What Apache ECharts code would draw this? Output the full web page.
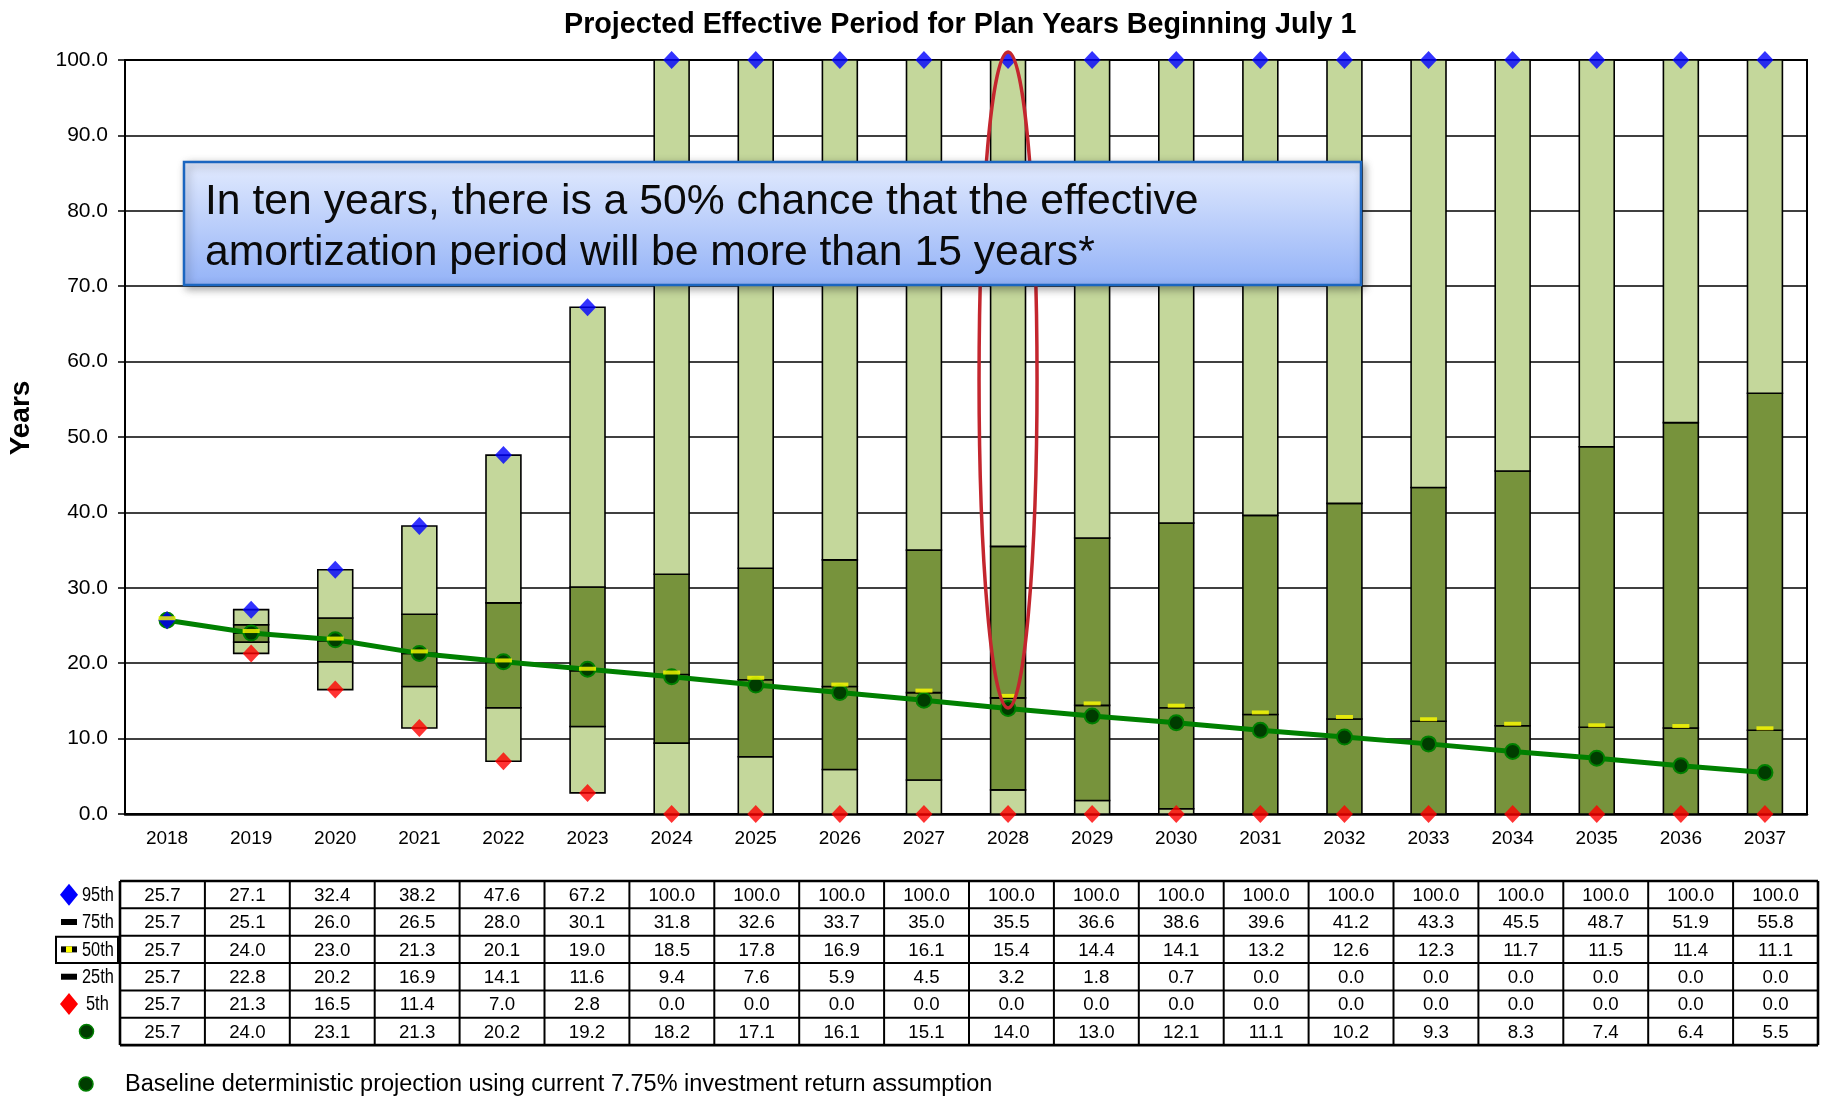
<!DOCTYPE html>
<html>
<head>
<meta charset="utf-8">
<title>Projected Effective Period</title>
<script src="https://cdn.jsdelivr.net/npm/echarts@6/dist/echarts.min.js"></script>
<style>
  html, body { margin: 0; padding: 0; background: #fff; }
  #chart { width: 1825px; height: 1097px; }
</style>
</head>
<body>
<div id="chart"></div>
<script>
// Plan years
const years = ['2018','2019','2020','2021','2022','2023','2024','2025','2026','2027',
               '2028','2029','2030','2031','2032','2033','2034','2035','2036','2037'];

// Percentiles of the projected effective amortization period (years)
const pct95 = [25.7, 27.1, 32.4, 38.2, 47.6, 67.2, 100.0, 100.0, 100.0, 100.0,
               100.0, 100.0, 100.0, 100.0, 100.0, 100.0, 100.0, 100.0, 100.0, 100.0];
const pct75 = [25.7, 25.1, 26.0, 26.5, 28.0, 30.1, 31.8, 32.6, 33.7, 35.0,
               35.5, 36.6, 38.6, 39.6, 41.2, 43.3, 45.5, 48.7, 51.9, 55.8];
const pct50 = [25.7, 24.0, 23.0, 21.3, 20.1, 19.0, 18.5, 17.8, 16.9, 16.1,
               15.4, 14.4, 14.1, 13.2, 12.6, 12.3, 11.7, 11.5, 11.4, 11.1];
const pct25 = [25.7, 22.8, 20.2, 16.9, 14.1, 11.6, 9.4, 7.6, 5.9, 4.5,
               3.2, 1.8, 0.7, 0.0, 0.0, 0.0, 0.0, 0.0, 0.0, 0.0];
const pct5  = [25.7, 21.3, 16.5, 11.4, 7.0, 2.8, 0.0, 0.0, 0.0, 0.0,
               0.0, 0.0, 0.0, 0.0, 0.0, 0.0, 0.0, 0.0, 0.0, 0.0];

// Baseline deterministic projection (7.75% return assumption)
const baseline = [25.7, 24.0, 23.1, 21.3, 20.2, 19.2, 18.2, 17.1, 16.1, 15.1,
                  14.0, 13.0, 12.1, 11.1, 10.2, 9.3, 8.3, 7.4, 6.4, 5.5];

// Table rows under the chart, top to bottom
const tableRows = [pct95, pct75, pct50, pct25, pct5, baseline];
const rowLabels = ['95th', '75th', '50th', '25th', '5th', ''];

const calloutLines = [
  'In ten years, there is a 50% chance that the effective',
  'amortization period will be more than 15 years*'
];
const footnote = 'Baseline deterministic projection using current 7.75% investment return assumption';
const highlightYear = '2028';

const FONT = '"Liberation Sans", Arial, Helvetica, sans-serif';
const LIGHT = '#C4D79B';
const DARK = '#77933C';
const BLUE = '#0000FF';
const RED = '#FF0000';
const LINE_GREEN = '#008000';
const DOT_GREEN = '#003C00';

const chart = echarts.init(document.getElementById('chart'), null, { renderer: 'canvas' });

// Floating percentile bands: 5-25 light, 25-50 dark, 50-75 dark, 75-95 light
function renderBands(params, api) {
  const i = api.value(0);
  const v = [api.value(1), api.value(2), api.value(3), api.value(4), api.value(5)];
  const fills = [LIGHT, DARK, DARK, LIGHT];
  const w = api.size([1, 0])[0] * 0.415;
  const x = api.coord([i, 0])[0] - w / 2;
  const children = [];
  for (let k = 0; k < 4; k++) {
    if (v[k + 1] - v[k] <= 0) continue;
    const yHi = api.coord([i, v[k + 1]])[1];
    const yLo = api.coord([i, v[k]])[1];
    children.push({
      type: 'rect',
      shape: { x: x, y: yHi, width: w, height: yLo - yHi },
      style: { fill: fills[k], stroke: '#000', lineWidth: 1.6 }
    });
  }
  return { type: 'group', children: children };
}

const bandData = years.map((y, i) => [i, pct5[i], pct25[i], pct50[i], pct75[i], pct95[i]]);

chart.setOption({
  animation: false,
  backgroundColor: '#fff',
  title: {
    text: 'Projected Effective Period for Plan Years Beginning July 1',
    left: 559, top: 6,
    textStyle: { fontFamily: FONT, fontWeight: 'bold', fontSize: 28.7, color: '#000' }
  },
  grid: {
    left: 125, right: 18, top: 60, bottom: 283,
    show: true, borderColor: '#000', borderWidth: 2, backgroundColor: 'transparent'
  },
  xAxis: {
    type: 'category',
    data: years,
    axisLine: { lineStyle: { color: '#000', width: 2.5 } },
    axisTick: { show: false },
    axisLabel: { color: '#000', fontFamily: FONT, fontSize: 19, margin: 15 },
    splitLine: { show: false }
  },
  yAxis: {
    type: 'value',
    min: 0, max: 100, interval: 10,
    axisLine: { show: true, lineStyle: { color: '#000', width: 2 } },
    axisTick: { show: true, length: 7, lineStyle: { color: '#000', width: 1.5 } },
    axisLabel: {
      color: '#000', fontFamily: FONT, fontSize: 21, margin: 17,
      formatter: v => v.toFixed(1)
    },
    splitLine: { lineStyle: { color: '#000', width: 1.5 } }
  },
  series: [
    {
      name: 'bands',
      type: 'custom',
      renderItem: renderBands,
      encode: { x: 0, y: [1, 2, 3, 4, 5] },
      data: bandData,
      z: 2
    },
    {
      name: '5th',
      type: 'scatter',
      data: pct5,
      symbol: 'diamond',
      symbolSize: [17, 18],
      itemStyle: { color: RED },
      z: 3
    },
    {
      name: 'Baseline',
      type: 'line',
      data: baseline,
      symbol: 'circle',
      symbolSize: 15,
      showSymbol: true,
      lineStyle: { color: LINE_GREEN, width: 5 },
      itemStyle: { color: DOT_GREEN, borderColor: LINE_GREEN, borderWidth: 2 },
      z: 4
    },
    {
      name: '95th',
      type: 'scatter',
      data: pct95,
      symbol: 'diamond',
      symbolSize: [17, 18],
      itemStyle: { color: BLUE },
      z: 5
    },
    {
      name: '50th',
      type: 'scatter',
      data: pct50,
      symbol: 'rect',
      symbolSize: [17, 4],
      symbolOffset: [0, -2],
      itemStyle: { color: '#FFFF00' },
      z: 6
    }
  ]
});

// ---- Axis name, annotations, data table and footnote ----
const g = [];

// Vertical axis name
g.push({
  type: 'text',
  x: 21, y: 418, rotation: Math.PI / 2,
  style: { text: 'Years', font: 'bold 28px ' + FONT, fill: '#000', align: 'center', verticalAlign: 'middle' },
  z: 10
});

// Red ellipse around the ten-year bar
const ex = chart.convertToPixel({ xAxisIndex: 0 }, highlightYear);
g.push({
  type: 'ellipse',
  shape: { cx: ex, cy: 380, rx: 29, ry: 328 },
  style: { fill: null, stroke: '#C4262E', lineWidth: 3.5 },
  z: 50
});

// Callout box
g.push({
  type: 'rect',
  shape: { x: 184, y: 162, width: 1177, height: 123 },
  style: {
    fill: new echarts.graphic.LinearGradient(0, 0, 0, 1, [
      { offset: 0, color: '#E3EBFE' },
      { offset: 1, color: '#93B2F7' }
    ]),
    stroke: '#1B66C0', lineWidth: 2.5,
    shadowBlur: 8, shadowOffsetX: 3, shadowOffsetY: 3, shadowColor: 'rgba(0,0,0,0.35)'
  },
  z: 60
});
calloutLines.forEach((t, k) => {
  g.push({
    type: 'text',
    x: 205, y: 202.5 + k * 51,
    style: { text: t, font: '42.7px ' + FONT, fill: '#0a0a0a', verticalAlign: 'middle', align: 'left' },
    z: 61
  });
});

// Data table
const tLeft = 120, tTop = 881, colW = 84.9, rowH = 27.35;
const nCols = years.length, nRows = tableRows.length;
const tRight = tLeft + colW * nCols, tBottom = tTop + rowH * nRows;
tableRows.forEach((row, r) => {
  row.forEach((val, c) => {
    g.push({
      type: 'text',
      x: tLeft + colW * (c + 0.5), y: tTop + rowH * (r + 0.5) + 1,
      style: { text: val.toFixed(1), font: '18.7px ' + FONT, fill: '#000', align: 'center', verticalAlign: 'middle' },
      z: 20
    });
  });
});
for (let r = 0; r <= nRows; r++) {
  const y = tTop + rowH * r;
  g.push({
    type: 'line',
    shape: { x1: tLeft, y1: y, x2: tRight, y2: y },
    style: { stroke: '#000', lineWidth: (r === 0 || r === nRows) ? 2.6 : 2 },
    z: 21
  });
}
for (let c = 0; c <= nCols; c++) {
  const x = tLeft + colW * c;
  g.push({
    type: 'line',
    shape: { x1: x, y1: tTop, x2: x, y2: tBottom },
    style: { stroke: '#000', lineWidth: (c === 0 || c === nCols) ? 2.6 : 2 },
    z: 21
  });
}

// Row legend keys
function rowMid(r) { return tTop + rowH * (r + 0.5); }
function diamond(cx, cy, hw, hh, color) {
  return {
    type: 'polygon',
    shape: { points: [[cx, cy - hh], [cx + hw, cy], [cx, cy + hh], [cx - hw, cy]] },
    style: { fill: color }, z: 22
  };
}
function dash(cx, cy) {
  return { type: 'rect', shape: { x: cx - 8, y: cy - 3, width: 16, height: 6 }, style: { fill: '#000' }, z: 22 };
}
rowLabels.forEach((lab, r) => {
  if (!lab) return;
  g.push({
    type: 'text',
    x: r === 4 ? 86 : 82, y: rowMid(r) + 1,
    scaleX: 0.84,
    style: { text: lab, font: '19.5px ' + FONT, fill: '#000', align: 'left', verticalAlign: 'middle' },
    z: 22
  });
});
g.push(diamond(69, rowMid(0), 9, 11, BLUE));
g.push(dash(69, rowMid(1)));
g.push(dash(69, rowMid(2)));
g.push({ type: 'rect', shape: { x: 66, y: rowMid(2) - 3, width: 6, height: 6 }, style: { fill: '#FFFF00' }, z: 23 });
g.push({
  type: 'rect', shape: { x: 56, y: tTop + rowH * 2 + 1, width: 62, height: rowH - 1 },
  style: { fill: null, stroke: '#000', lineWidth: 2 }, z: 22
});
g.push(dash(69, rowMid(3)));
g.push(diamond(69, rowMid(4), 9, 11, RED));
g.push({
  type: 'circle', shape: { cx: 86.5, cy: rowMid(5), r: 7 },
  style: { fill: DOT_GREEN, stroke: LINE_GREEN, lineWidth: 1.5 }, z: 22
});

// Footnote
g.push({
  type: 'circle', shape: { cx: 86, cy: 1084, r: 7 },
  style: { fill: DOT_GREEN, stroke: LINE_GREEN, lineWidth: 1.5 }, z: 22
});
g.push({
  type: 'text', x: 125, y: 1085,
  style: { text: footnote, font: '23.5px ' + FONT, fill: '#000', align: 'left', verticalAlign: 'middle' },
  z: 22
});

chart.setOption({ graphic: { elements: g } });
</script>
</body>
</html>
